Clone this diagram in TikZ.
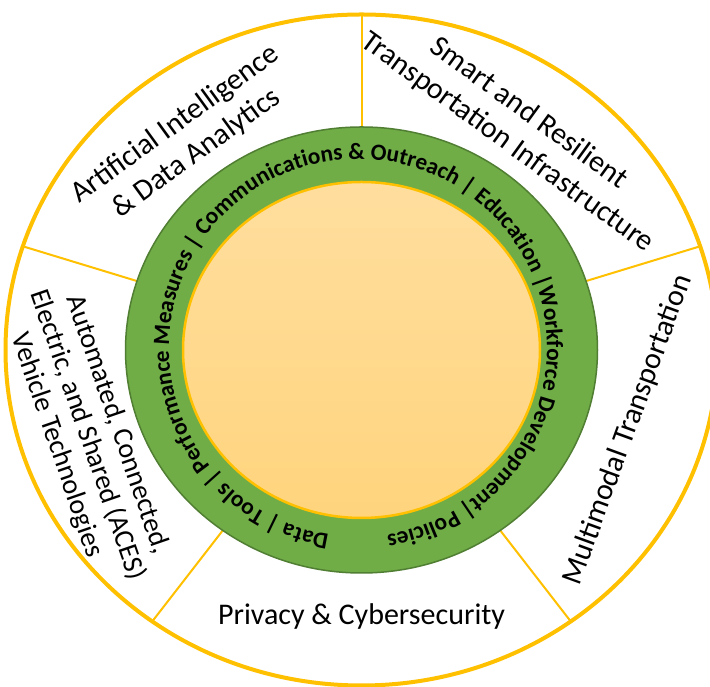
\documentclass[tikz,border=0pt]{standalone}
\usepackage{fontspec}
\setmainfont{Carlito}
\usetikzlibrary{calc,decorations.text}
\definecolor{gold}{HTML}{FFC000}
\definecolor{ringgreen}{HTML}{70AD47}
\definecolor{ringedge}{HTML}{507E32}
\definecolor{peachtop}{RGB}{255,222,158}
\definecolor{peachbot}{RGB}{255,212,125}
\newcommand\ringfmt{\bfseries\fontsize{23.3}{28}\selectfont}
\begin{document}
\begin{tikzpicture}[x=1pt,y=1pt,
  divider/.style={draw=gold,line width=2pt},
  seglabel/.style={font=\fontsize{30}{36}\selectfont,align=center,inner sep=0pt}]
\useasboundingbox (0,0) rectangle (710,687);
\fill[white] (0,0) rectangle (710,687);
\coordinate (C) at (361.5,337);
\coordinate (T) at (358,339);
\draw[gold,line width=4pt,fill=white] (C) ellipse [x radius=356pt,y radius=335.5pt];
\foreach \a [count=\i] in {90,18,-54,-126,162}{
  \coordinate (g\i) at ($(C)+(\a:236pt and 223pt)$);
  \coordinate (o\i) at ($(C)+(\a:356pt and 335.5pt)$);
  \draw[divider] (g\i) -- (o\i);
}
\filldraw[fill=ringgreen,draw=ringedge,line width=1.5pt] (C) ellipse [x radius=236pt,y radius=223pt];
\shadedraw[top color=peachtop,bottom color=peachbot,draw=gold,line width=2.5pt] (C) ellipse [x radius=178.5pt,y radius=168pt];
\coordinate (ts) at ($(T)+(270:189pt)$);
\path[decorate,decoration={text along path,text format delimiters={[}{]},text align=center,
  text={[\ringfmt]Data {|} Tools {|} Performance Measures {|} Communications {\&} Outreach {|} Education {|}Workforce Development{|} Policies}}]
  (ts) arc[start angle=270,end angle=-90,radius=189pt];
\node[seglabel,rotate=36] (ai) at (186,548) {Artificial Intelligence\\\& Data Analytics};
\node[seglabel,rotate=-36] (smart) at (518,559) {Smart and Resilient\\Transportation Infrastructure};
\node[seglabel,rotate=70] (multi) at (628,257) {Multimodal Transportation};
\node[seglabel,rotate=-71,font=\fontsize{28}{32}\selectfont] (aces) at (87,252) {Automated, Connected,\\Electric, and Shared (ACES)\\Vehicle Technologies};
\node[seglabel,anchor=base] (priv) at (361.5,62) {Privacy \& Cybersecurity};
\end{tikzpicture}
\end{document}
